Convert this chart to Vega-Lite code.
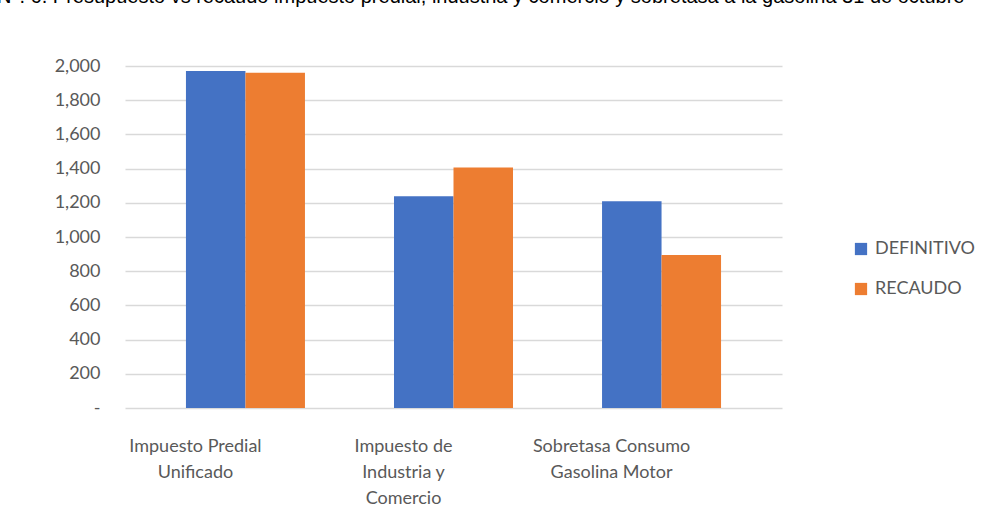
{
  "$schema": "https://vega.github.io/schema/vega-lite/v6.json",
  "autosize": {"type": "none"},
  "padding": {"left": 125, "top": 66, "right": 215, "bottom": 119},
  "width": 657,
  "height": 342,
  "background": "white",
  "title": {
    "text": "N°. 6. Presupuesto vs recaudo impuesto predial, industria y comercio y sobretasa a la gasolina 31 de octubre",
    "orient": "top",
    "anchor": "start",
    "frame": "group",
    "baseline": "alphabetic",
    "offset": 34,
    "dx": -128,
    "font": "Liberation Sans",
    "fontSize": 20,
    "fontWeight": "normal",
    "color": "#000000"
  },
  "data": {
    "values": [
      {"impuesto": "Impuesto Predial Unificado", "serie": "DEFINITIVO", "valor": 1971},
      {"impuesto": "Impuesto Predial Unificado", "serie": "RECAUDO", "valor": 1961},
      {"impuesto": "Impuesto de Industria y Comercio", "serie": "DEFINITIVO", "valor": 1238},
      {"impuesto": "Impuesto de Industria y Comercio", "serie": "RECAUDO", "valor": 1407},
      {"impuesto": "Sobretasa Consumo Gasolina Motor", "serie": "DEFINITIVO", "valor": 1209},
      {"impuesto": "Sobretasa Consumo Gasolina Motor", "serie": "RECAUDO", "valor": 895}
    ]
  },
  "mark": {"type": "bar"},
  "encoding": {
    "x": {
      "field": "impuesto",
      "type": "nominal",
      "sort": null,
      "scale": {"paddingInner": 0.428, "paddingOuter": 0.293},
      "axis": {
        "title": null,
        "labelAngle": 0,
        "domain": false,
        "ticks": false,
        "labelOffset": -50,
        "labelPadding": 29,
        "labelFont": "Lato",
        "labelFontSize": 18,
        "labelColor": "#595959",
        "labelLineHeight": 26,
        "labelBaseline": "top",
        "labelExpr": "datum.value == 'Impuesto Predial Unificado' ? ['Impuesto Predial', 'Unificado'] : datum.value == 'Impuesto de Industria y Comercio' ? ['Impuesto de', 'Industria y', 'Comercio'] : ['Sobretasa Consumo', 'Gasolina Motor']"
      }
    },
    "xOffset": {
      "field": "serie",
      "type": "nominal",
      "scale": {"paddingInner": 0, "paddingOuter": 0}
    },
    "y": {
      "field": "valor",
      "type": "quantitative",
      "scale": {"domain": [0, 2000], "nice": false},
      "axis": {
        "title": null,
        "values": [0, 200, 400, 600, 800, 1000, 1200, 1400, 1600, 1800, 2000],
        "domain": false,
        "ticks": false,
        "labelPadding": 25,
        "labelFont": "Lato",
        "labelFontSize": 18,
        "labelColor": "#595959",
        "labelExpr": "datum.value == 0 ? '-\u00a0\u00a0\u00a0\u00a0' : format(datum.value, ',')",
        "gridColor": "#d9d9d9",
        "gridWidth": 1.5
      }
    },
    "color": {
      "field": "serie",
      "type": "nominal",
      "scale": {"domain": ["DEFINITIVO", "RECAUDO"], "range": ["#4472C4", "#ED7D31"]},
      "legend": {
        "title": null,
        "orient": "none",
        "legendX": 727,
        "legendY": 174,
        "symbolType": "square",
        "symbolSize": 150,
        "symbolStrokeWidth": 0,
        "labelFont": "Lato",
        "labelFontSize": 18,
        "labelColor": "#595959",
        "rowPadding": 22,
        "labelOffset": 5
      }
    }
  },
  "config": {
    "view": {"stroke": null}
  }
}
